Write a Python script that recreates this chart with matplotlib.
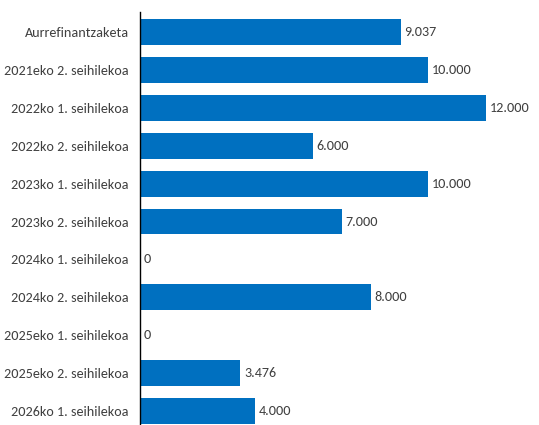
import matplotlib
matplotlib.use("Agg")
import matplotlib.pyplot as plt

categories = ["Aurrefinantzaketa", "2021eko 2. seihilekoa", "2022ko 1. seihilekoa",
              "2022ko 2. seihilekoa", "2023ko 1. seihilekoa", "2023ko 2. seihilekoa",
              "2024ko 1. seihilekoa", "2024ko 2. seihilekoa", "2025eko 1. seihilekoa",
              "2025eko 2. seihilekoa", "2026ko 1. seihilekoa"]
values = [9037, 10000, 12000, 6000, 10000, 7000, 0, 8000, 0, 3476, 4000]
value_labels = ["9.037", "10.000", "12.000", "6.000", "10.000", "7.000", "0",
                "8.000", "0", "3.476", "4.000"]

plt.rcParams['font.family'] = ['Carlito', 'DejaVu Sans']

fig = plt.figure(figsize=(5.39, 4.25), dpi=100)
ax = fig.add_axes([140/539, 0, 1 - 140/539, 1 - 12/425])

color = "#0070C0"
n = len(categories)
ypos = list(range(n))
ax.barh(ypos, values, height=0.68, color=color)
for y, v, lab in zip(ypos, values, value_labels):
    ax.text(v + 130, y, lab, va='center', ha='left', fontsize=10.2, color='#404040')

ax.set_yticks(ypos)
ax.set_yticklabels(categories, fontsize=10.2, color='#404040')
ax.tick_params(axis='y', length=0, pad=8)
ax.set_ylim(n - 1 + 0.37, -0.53)
ax.set_xlim(0, 13838)
ax.set_xticks([])
for s in ['top', 'right', 'bottom']:
    ax.spines[s].set_visible(False)
ax.spines['left'].set_color('black')
ax.spines['left'].set_linewidth(1)

fig.savefig("out.png", dpi=100)
